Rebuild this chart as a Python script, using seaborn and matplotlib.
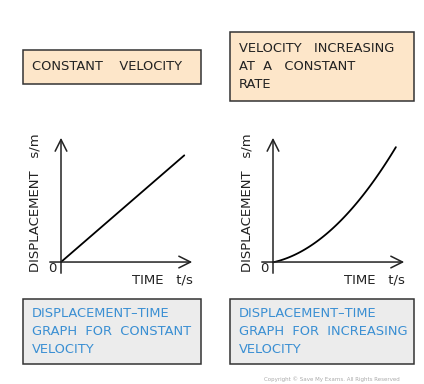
import numpy as np
import pandas as pd
import matplotlib
matplotlib.use("Agg")
import matplotlib.pyplot as plt
import seaborn as sns
from matplotlib.patches import Rectangle

# valores (unidades arbitrarias)
t_const = [0, 9.2]
s_const = [0, 8.4]

t_acc = [0, 0.9, 1.9, 3.16, 4.41, 5.66, 6.92, 8.05, 9.17]
s_acc = [0, 0.29, 0.69, 1.47, 2.52, 3.96, 5.67, 7.24, 8.95]

titulos = ["CONSTANT    VELOCITY",
           "VELOCITY   INCREASING\nAT  A   CONSTANT\nRATE"]
pies = ["DISPLACEMENT\u2013TIME\nGRAPH  FOR  CONSTANT\nVELOCITY",
        "DISPLACEMENT\u2013TIME\nGRAPH  FOR  INCREASING\nVELOCITY"]

W, H = 424, 384
sns.set_theme(style="white")
plt.rcParams['font.family'] = ['DejaVu Sans']

fig = plt.figure(figsize=(W / 100, H / 100), dpi=100)
fig.patch.set_facecolor("white")


def px(x0, y0, x1, y1):
    """ rectangulo en pixeles (arriba-izquierda) -> fraccion de figura """
    return [x0 / W, 1 - y1 / H, (x1 - x0) / W, (y1 - y0) / H]


def caja(x0, y0, x1, y1, color, texto, tcolor):
    r = px(x0, y0, x1, y1)
    fig.patches.append(Rectangle((r[0], r[1]), r[2], r[3], transform=fig.transFigure,
                                 facecolor=color, edgecolor="#333333", linewidth=1.1))
    fig.text((x0 + 9) / W, 1 - (y0 + y1) / 2 / H, texto, color=tcolor, fontsize=9.4,
             ha="left", va="center", linespacing=1.52)


caja(23, 50, 201, 84, "#fde6c9", titulos[0], "#222222")
caja(230, 32, 414, 101, "#fde6c9", titulos[1], "#222222")
caja(23, 299, 201, 364, "#ececec", pies[0], "#3a8fd3")
caja(230, 299, 414, 364, "#ececec", pies[1], "#3a8fd3")

series = [(61, t_const, s_const, 1), (273, t_acc, s_acc, 2)]
for ox, t, s, orden in series:
    ax = fig.add_axes(px(ox - 14, 133, ox + 136, 276))
    df = pd.DataFrame({"t": t, "s": s})
    # la recta y la parabola se ajustan a los puntos leidos
    sns.regplot(data=df, x="t", y="s", ax=ax, order=orden, ci=None, scatter=False,
                color="black", line_kws={"linewidth": 1.3})
    ax.set_xlim(-1.045, 10.15)
    ax.set_ylim(-1.1, 10.16)
    ax.axis("off")
    flecha = dict(arrowstyle="->,head_length=0.7,head_width=0.35", color="#222222", lw=1.1)
    ax.annotate("", xy=(10, 0), xytext=(-1.045, 0), arrowprops=flecha)
    ax.annotate("", xy=(0, 10), xytext=(0, -1.1), arrowprops=flecha)
    ax.text(-0.65, -0.5, "0", fontsize=9.5, ha="center", va="center", color="#222222")
    ax.text(7.6, -1.42, "TIME   t/s", fontsize=9.5, ha="center", va="center",
            color="#222222", clip_on=False)
    ax.text(-1.94, 4.65, "DISPLACEMENT   s/m", fontsize=9.5, rotation=90,
            ha="center", va="center", color="#222222", clip_on=False)

fig.text(400 / W, 1 - 379 / H, "Copyright \u00a9 Save My Exams. All Rights Reserved",
         fontsize=4, color="#aaaaaa", ha="right", va="center")

fig.savefig("out.png", dpi=100)
